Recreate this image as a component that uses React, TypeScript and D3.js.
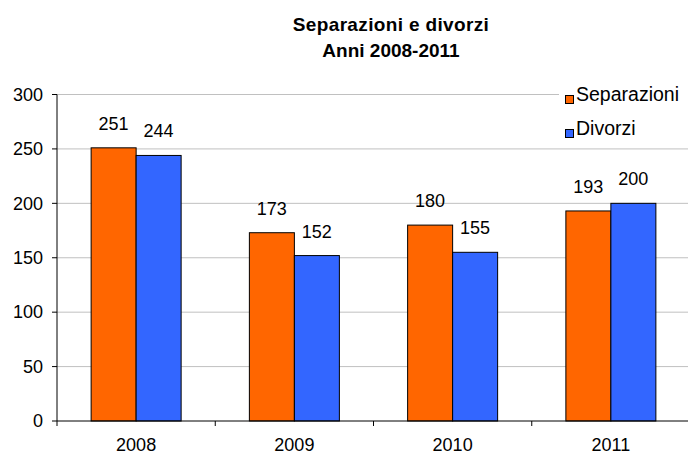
import React, { useEffect, useRef } from "react";
import * as d3 from "d3";

const anni = ["2008", "2009", "2010", "2011"];
const separazioni = [251, 173, 180, 193];
const divorzi = [244, 152, 155, 200];
const yTicks = [0, 50, 100, 150, 200, 250, 300];
const serie = [
    { nome: "Separazioni", valori: separazioni, colore: "#ff6600" },
    { nome: "Divorzi", valori: divorzi, colore: "#3366ff" },
];

const W = 688, H = 456;
const FONT = "Arial, 'Liberation Sans', sans-serif";

const App = () => {
    const ref = useRef<SVGSVGElement>(null);

    useEffect(() => {
        const svg = d3.select(ref.current);
        svg.selectAll("*").remove();

        const left = 57, right = 690, top = 94.5, bottom = 421;

        const x = d3.scaleBand().domain(anni).range([left, right]).padding(0);
        const y = d3.scaleLinear().domain([0, 300]).range([bottom, top]);
        const groupW = 90;
        const xs = d3.scaleBand().domain(serie.map(s => s.nome)).range([0, groupW]);

        // gridlines
        svg.append("g")
            .selectAll("line")
            .data(yTicks.filter(t => t > 0))
            .enter().append("line")
            .attr("x1", left).attr("x2", right)
            .attr("y1", d => y(d)).attr("y2", d => y(d))
            .attr("stroke", "#c0c0c0").attr("stroke-width", 1);

        // bars + value labels
        serie.forEach(s => {
            svg.append("g")
                .selectAll("rect")
                .data(s.valori)
                .enter().append("rect")
                .attr("x", (d, i) => x(anni[i])! + x.bandwidth() / 2 - groupW / 2 + xs(s.nome)!)
                .attr("y", d => y(d))
                .attr("width", xs.bandwidth())
                .attr("height", d => y(0) - y(d))
                .attr("fill", s.colore)
                .attr("stroke", "#000").attr("stroke-width", 1);

            svg.append("g")
                .selectAll("text")
                .data(s.valori)
                .enter().append("text")
                .attr("x", (d, i) => x(anni[i])! + x.bandwidth() / 2 - groupW / 2 + xs(s.nome)! + xs.bandwidth() / 2)
                .attr("y", d => y(d) - 18)
                .attr("text-anchor", "middle")
                .attr("font-family", FONT).attr("font-size", 18)
                .text(d => d);
        });

        // y axis
        const yAxis = svg.append("g");
        yAxis.append("line")
            .attr("x1", left).attr("x2", left).attr("y1", top).attr("y2", bottom + 5)
            .attr("stroke", "#000");
        yTicks.forEach(t => {
            yAxis.append("line")
                .attr("x1", left - 5).attr("x2", left).attr("y1", y(t)).attr("y2", y(t))
                .attr("stroke", "#000");
            yAxis.append("text")
                .attr("x", 43).attr("y", y(t))
                .attr("dy", "0.35em")
                .attr("text-anchor", "end")
                .attr("font-family", FONT).attr("font-size", 18)
                .text(t);
        });

        // x axis
        const xAxis = svg.append("g");
        xAxis.append("line")
            .attr("x1", left).attr("x2", right).attr("y1", bottom).attr("y2", bottom)
            .attr("stroke", "#000");
        anni.forEach((a, i) => {
            if (i > 0) {
                xAxis.append("line")
                    .attr("x1", x(a)!).attr("x2", x(a)!).attr("y1", bottom).attr("y2", bottom + 5)
                    .attr("stroke", "#000");
            }
            xAxis.append("text")
                .attr("x", x(a)! + x.bandwidth() / 2).attr("y", 451)
                .attr("text-anchor", "middle")
                .attr("font-family", FONT).attr("font-size", 18)
                .text(a);
        });

        // title
        const title = svg.append("text")
            .attr("x", 391).attr("text-anchor", "middle")
            .attr("font-family", FONT).attr("font-size", 19).attr("font-weight", "bold");
        title.append("tspan").attr("x", 391).attr("y", 31).attr("letter-spacing", 0.35).text("Separazioni e divorzi");
        title.append("tspan").attr("x", 391).attr("y", 57).text("Anni 2008-2011");

        // legend
        const legend = svg.append("g");
        legend.append("rect")
            .attr("x", 559).attr("y", 80).attr("width", W - 559).attr("height", 64)
            .attr("fill", "#fff");
        serie.forEach((s, i) => {
            const ly = 100 + i * 34;
            legend.append("rect")
                .attr("x", 565.5).attr("y", ly - 4.5).attr("width", 8).attr("height", 8)
                .attr("fill", s.colore).attr("stroke", "#000").attr("stroke-width", 1);
            legend.append("text")
                .attr("x", 576).attr("y", ly + 0.5)
                .attr("font-family", FONT).attr("font-size", 19.5)
                .text(s.nome);
        });
    }, []);

    return (
        <div style={{ position: "absolute", left: 0, top: 0 }}>
            <svg ref={ref} width={W} height={H} style={{ display: "block", background: "#fff" }} />
        </div>
    );
};

export default App;
